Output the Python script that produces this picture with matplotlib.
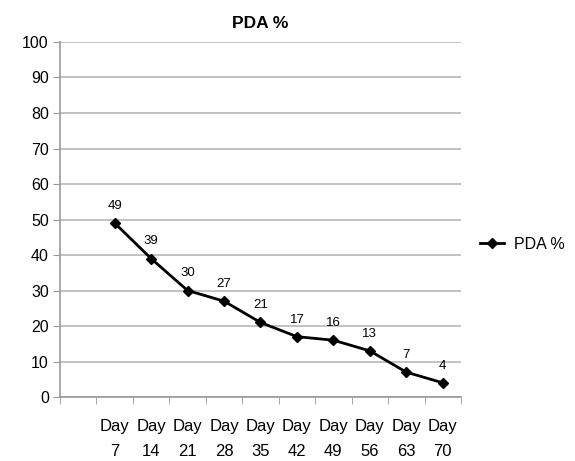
import matplotlib.pyplot as plt
import numpy as np

plt.rcParams["font.family"] = ["Liberation Sans", "DejaVu Sans"]

# Дані
days = ["Day\n7", "Day\n14", "Day\n21", "Day\n28", "Day\n35",
        "Day\n42", "Day\n49", "Day\n56", "Day\n63", "Day\n70"]
pda = [49, 39, 30, 27, 21, 17, 16, 13, 7, 4]

categories = [""] + days  # перша категорія порожня

fig = plt.figure(figsize=(5.75, 4.61), dpi=100)
ax = fig.add_axes([0.1043, 0.1388, 0.6974, 0.7701])

x = np.arange(1, len(categories))
ax.plot(x, pda, color="black", linewidth=2, marker="D", markersize=5, label="PDA %")

for xi, v in zip(x, pda):
    ax.annotate(str(v), (xi, v), xytext=(0, 8), textcoords="offset points",
                ha="center", va="bottom", fontsize=9.5)

ax.set_xlim(-0.5, len(categories) - 0.5)
ax.set_ylim(0, 100)
ax.set_yticks(np.arange(0, 101, 10))
ax.tick_params(axis="y", labelsize=11.5, length=5, color="#999999", pad=3)

# Мітки категорій по центру, риски на межах
ax.set_xticks(np.arange(len(categories)))
ax.set_xticklabels(categories, fontsize=12, linespacing=1.8)
ax.tick_params(axis="x", length=0, pad=16)
ax.set_xticks(np.arange(-0.5, len(categories)), minor=True)
ax.tick_params(axis="x", which="minor", length=5, color="#999999")

ax.grid(axis="y", color="#b8b8b8", linewidth=1.2)
ax.set_axisbelow(True)
for side in ["top", "right"]:
    ax.spines[side].set_visible(False)
for side in ["left", "bottom"]:
    ax.spines[side].set_color("#999999")
    ax.spines[side].set_linewidth(1.2)

ax.set_title("PDA %", fontsize=12.5, fontweight="bold", pad=10)

fig.legend(loc="center left", bbox_to_anchor=(0.81, 0.47), frameon=False,
           fontsize=11.5, handlelength=1.5, handletextpad=0.6)

fig.savefig("out.png", dpi=100)
